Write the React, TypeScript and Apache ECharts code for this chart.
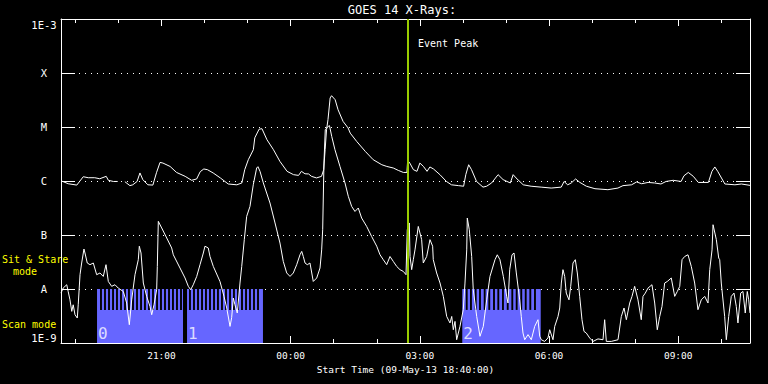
import React, { useEffect, useRef } from 'react';
import * as echarts from 'echarts';

const titleText = 'GOES 14 X-Rays:';
const startLabel = 'Start Time (09-May-13 18:40:00)';
const startClockMinutes = 18 * 60 + 40;
const axisMinMinutes = 0;
const axisMaxMinutes = 960;
const hourTicks = [20, 80, 140, 200, 260, 320, 380, 440, 500, 560, 620, 680, 740, 800, 860, 920];
const majorTicks = [140, 320, 500, 680, 860];
const yLevels = [-9, -8, -7, -6, -5, -4, -3];
const yTickLabels = ['1E-9', 'A', 'B', 'C', 'M', 'X', '1E-3'];
const eventPeakMinute = 483.5;
const eventLabel = 'Event Peak';

// GOES long channel (1-8 A), minutes since start, W/m^2
const longTimes = [0, 10, 22, 31, 38, 47, 54, 63, 66, 73, 79, 84, 89, 96, 100, 106, 110, 114, 121, 128, 133, 138, 142, 152, 161, 173, 182, 189, 194, 199, 204, 212, 222, 233, 245, 252, 256, 261, 268, 270, 276, 280, 287, 296, 305, 315, 324, 331, 335, 340, 345, 349, 356, 363, 366, 368, 370, 372, 375, 377, 382, 386, 393, 400, 403, 412, 424, 435, 447, 454, 463, 470, 477, 482, 483, 486, 491, 496, 500, 505, 510, 514, 519, 528, 537, 544, 554, 561, 564, 568, 572, 579, 588, 593, 600, 609, 616, 626, 630, 634, 644, 655, 669, 683, 697, 701, 706, 711, 717, 723, 732, 744, 762, 776, 783, 795, 802, 809, 818, 827, 836, 843, 853, 864, 868, 874, 881, 888, 902, 907, 911, 915, 925, 939, 948, 960];
const longFlux = [1.01e-6, 8.9e-7, 8.4e-7, 1.2e-6, 1.15e-6, 1.15e-6, 1.1e-6, 1.22e-6, 1.03e-6, 9.8e-7, 9.8e-7, null, 9.7e-7, 8.2e-7, 8.5e-7, 9.8e-7, 1.41e-6, 1.06e-6, 8.5e-7, 8.4e-7, 1.42e-6, 2.21e-6, 2.15e-6, 1.86e-6, 1.44e-6, 1.22e-6, 1.03e-6, 1.09e-6, 1.49e-6, 1.67e-6, 1.62e-6, 1.41e-6, 1.14e-6, 8.8e-7, 8.5e-7, 9.2e-7, 1.62e-6, 2.48e-6, 3.8e-6, 6.3e-6, 9.1e-6, 9.3e-6, 5.8e-6, 3.8e-6, 2.31e-6, 1.51e-6, 1.31e-6, 1.27e-6, 1.51e-6, 1.36e-6, 1.35e-6, 1.22e-6, 1.14e-6, 1.22e-6, 1.62e-6, 3.8e-6, 8.9e-6, 1.37e-5, 3.45e-5, 3.8e-5, 3.2e-5, 2.09e-5, 1.27e-5, 9.6e-6, 7.7e-6, 5.4e-6, 3.53e-6, 2.48e-6, 2.0e-6, 1.86e-6, 1.74e-6, 1.57e-6, 1.44e-6, 1.44e-6, 2.41e-6, 2.15e-6, 1.62e-6, 1.51e-6, 2.15e-6, 1.86e-6, 1.51e-6, 1.82e-6, 1.67e-6, 1.31e-6, 9.8e-7, 8.5e-7, 8.2e-7, 8.0e-7, 1.31e-6, 2.0e-6, 1.62e-6, 9.8e-7, 7.7e-7, 8.0e-7, 9.2e-7, 1.31e-6, 1.06e-6, 9.2e-7, 1.31e-6, 1.14e-6, 8.5e-7, 8.0e-7, 7.7e-7, 7.4e-7, 7.7e-7, 9.8e-7, 8.5e-7, 9.2e-7, 1.09e-6, 9.4e-7, 8.0e-7, 7.2e-7, 6.9e-7, 7.4e-7, 8.2e-7, 8.5e-7, 9.6e-7, 8.9e-7, 9.4e-7, 9.2e-7, 8.8e-7, 9.8e-7, 1.03e-6, 9.8e-7, 1.25e-6, 1.44e-6, 1.22e-6, 9.4e-7, 9.4e-7, 1.51e-6, 1.82e-6, 1.51e-6, 8.8e-7, 8.5e-7, 8.8e-7, 8.3e-7];

// GOES short channel (0.5-4 A)
const shortTimes = [0, 3, 8, 10, 12.5, 15, 17, 19.5, 22.7, 24, 26.5, 28.8, 32, 33.4, 36.6, 40.4, 45, 49.7, 54.3, 58.9, 62.7, 65.9, 70.6, 75.2, 79.8, 86.8, 91.5, 95.2, 98.5, 103.1, 107.7, 109.1, 111.5, 114.7, 119.4, 124, 126.4, 129.6, 133.3, 134.2, 135.6, 140.3, 147.3, 154.2, 156.5, 165.8, 172.8, 177.4, 180.7, 184.3, 189.1, 193.7, 198.3, 200.6, 205.2, 207.6, 212.2, 221.5, 227.1, 230.9, 235.5, 237.8, 240.1, 242.4, 245.6, 249.4, 251.8, 255.4, 258.7, 263.3, 267.9, 272.6, 274.4, 277.3, 281.9, 291.2, 298.2, 305.1, 309.7, 314.5, 319.1, 323.7, 328.4, 333, 335.4, 337.6, 340, 343.2, 346.9, 351.5, 356.3, 360.9, 363.2, 364.6, 366.4, 368.2, 372.4, 374.1, 377.2, 381.7, 388.7, 395.7, 400.3, 405, 409.6, 414.2, 418.9, 425.9, 432.8, 439.9, 444.5, 449, 453.8, 458.4, 463, 467.7, 472.3, 476.9, 480.7, 482.5, 485.3, 486.3, 488.6, 490.9, 493.2, 497.8, 502.5, 504.8, 509.5, 514.1, 517.8, 518.7, 523.4, 528.1, 532.7, 537.4, 542, 544.4, 546.6, 549, 551.3, 553.6, 555.9, 560.5, 562.9, 565.3, 566.1, 568.9, 572.2, 574.4, 579.2, 583.8, 588.4, 593.1, 597.7, 604.7, 607.9, 611.6, 616.3, 621, 622.8, 625.2, 628.4, 631.2, 634.4, 639.1, 641.3, 643.7, 646.1, 650.7, 655.3, 660, 664.6, 667, 669.2, 673.9, 678.5, 680.9, 685.5, 687.9, 692.5, 694.9, 697.1, 699.4, 701.8, 704, 707.8, 710.2, 713.4, 716.6, 719.4, 722.7, 725.9, 728.7, 731.9, 736.6, 741.3, 748.2, 755.2, 757.5, 759.8, 766.7, 776.1, 780.7, 784.5, 787.7, 792.4, 795.6, 799.3, 803.9, 808.5, 810.9, 814.1, 817.9, 823.4, 827.2, 830.8, 834.2, 837.4, 841.1, 844.8, 850.3, 855.1, 858.7, 862.1, 865.3, 869, 873.6, 878.2, 882.9, 887.5, 892.1, 896.9, 901.5, 903.9, 907.1, 908.5, 913.1, 916.4, 917.8, 920, 924.7, 927, 930.3, 933.9, 937.7, 940.9, 943.2, 947, 950.2, 953.4, 956.2, 958.2, 960];
const shortFlux = [8.4e-9, 1.04e-8, 1.2e-8, 9.0e-9, 6.3e-9, 3.85e-9, 5.1e-9, 3.34e-9, 2.9e-9, 5.1e-9, 1.84e-8, 3.03e-8, 5.5e-8, 4.64e-8, 3.03e-8, 2.82e-8, 3.03e-8, 1.84e-8, 1.98e-8, 1.71e-8, 2.82e-8, 1.38e-8, 1.12e-8, 1.2e-8, 1.04e-8, 9.0e-9, 5.5e-9, 2.18e-9, 6.3e-9, 1.84e-8, 3.49e-8, 6.2e-8, 4.64e-8, 1.29e-8, 7.3e-9, 4.76e-9, 3.34e-9, 5.1e-9, 9.7e-9, 2.62e-8, 1.79e-7, 1.35e-7, 8.8e-8, 5.75e-8, 4.3e-8, 2.45e-8, 1.6e-8, 1.12e-8, 9.7e-9, 1.2e-8, 1.71e-8, 2.82e-8, 4.64e-8, 6.2e-8, 5.75e-8, 4.0e-8, 2.62e-8, 1.38e-8, 7.3e-9, 4.45e-9, 2.03e-9, 2.94e-9, 6.8e-9, 5.1e-9, 3.59e-9, 1.29e-8, 2.62e-8, 8.2e-8, 2.21e-7, 3.38e-7, 8.5e-7, 1.74e-6, 1.84e-6, 1.51e-6, 9.2e-7, 3.91e-7, 1.67e-7, 7.1e-8, 3.24e-8, 1.98e-8, 1.71e-8, 1.98e-8, 2.82e-8, 4.3e-8, 4.97e-8, 4.0e-8, 3.03e-8, 2.82e-8, 3.03e-8, 1.38e-8, 1.6e-8, 2.45e-8, 5.3e-8, 1.25e-7, 2.15e-6, 8.9e-6, 1.03e-5, 1.06e-5, 6.7e-6, 3.8e-6, 1.86e-6, 9.2e-7, 5.2e-7, 3.38e-7, 2.73e-7, 3.16e-7, 2.06e-7, 1.44e-7, 9.4e-8, 6.2e-8, 4.3e-8, 3.49e-8, 2.82e-8, 4.0e-8, 3.24e-8, 2.62e-8, 2.28e-8, 2.12e-8, 1.84e-8, 1.25e-7, 1.67e-7, 4.0e-8, 2.28e-8, 3.49e-8, 5.3e-8, 1.44e-7, 8.2e-8, 3.03e-8, 4.0e-8, 8.2e-8, 6.2e-8, 3.49e-8, 1.98e-8, 1.29e-8, 7.3e-9, 3.1e-9, 2.35e-9, 3.1e-9, 1.76e-9, 2.51e-9, 1.15e-9, 1.53e-9, 2.03e-9, 4.14e-9, 1.29e-8, 5.3e-8, 2.06e-7, 1.25e-7, 4.0e-8, 9.7e-9, 3.1e-9, 1.33e-9, 2.03e-9, 6.3e-9, 1.71e-8, 3.49e-8, 4.3e-8, 3.49e-8, 1.71e-8, 7.3e-9, 5.5e-9, 2.28e-8, 4.3e-8, 4.64e-8, 1.98e-8, 6.3e-9, 3.1e-9, 1.53e-9, 1.15e-9, 1.43e-9, 1.15e-9, 2.03e-9, 2.7e-9, 1.33e-9, 1.15e-9, 1.07e-9, 1.24e-9, 1.76e-9, 1.15e-9, 2.03e-9, 3.1e-9, 4.45e-9, 1.29e-8, 2.28e-8, 1.71e-8, 8.4e-9, 6.3e-9, 1.12e-8, 3.03e-8, 3.49e-8, 1.98e-8, 7.3e-9, 2.7e-9, 1.64e-9, 1.53e-9, 1.24e-9, 1.07e-9, 1.19e-9, 1.15e-9, 2.7e-9, 1.07e-9, 1.07e-9, 1.15e-9, 3.1e-9, 4.45e-9, 2.7e-9, 5.5e-9, 7.3e-9, 1.12e-8, 6.3e-9, 2.7e-9, 7.3e-9, 8.4e-9, 1.04e-8, 1.2e-8, 5.5e-9, 1.76e-9, 3.1e-9, 4.76e-9, 1.29e-8, 1.38e-8, 1.6e-8, 7.3e-9, 9.0e-9, 1.12e-8, 3.49e-8, 4.0e-8, 4.3e-8, 2.62e-8, 1.29e-8, 4.14e-9, 6.3e-9, 7.3e-9, 5.5e-9, 2.28e-8, 5.3e-8, 1.55e-7, 8.2e-8, 3.75e-8, 3.49e-8, 1.29e-8, 3.1e-9, 1.15e-9, 3.1e-9, 7.3e-9, 8.4e-9, 4.76e-9, 2.35e-9, 8.4e-9, 9.0e-9, 3.59e-9, 9.0e-9, 6.3e-9, 3.59e-9];

// observing-mode segments (minutes since start)
const modeSegStart = [50.2, 175.6, 559.1];
const modeSegEnd = [170, 281.4, 668.4];
const modeSegLabels = ['0', '1', '2'];
const scanTopFlux = 4.1e-9;
const sitStareTopFlux = 1e-8;
const sitStareGaps = [
  55.7, 61.3, 66.9, 72.5, 78.0, 83.6, 89.2, 94.7, 100.3, 105.9, 111.5, 117.0, 122.6, 128.2, 133.8, 139.3, 144.9, 150.5, 156.0, 161.6, 167.2,
  179.7, 185.3, 190.9, 196.5, 202.0, 207.6, 213.2, 218.7, 224.3, 229.9, 235.5, 241.0, 246.6, 252.2, 257.8, 263.3, 268.9, 274.5,
  565.3, 571.2, 577.8, 583.8, 590.3, 596.7, 603.3, 609.3, 615.8, 622.4, 628.8, 634.9, 641.3, 647.5, 653.9, 660.4,
];
const gapWidthMinutes = 2.6;

const FONT = 'DejaVu Sans Mono';
const BLUE = '#6666ff';
const GREEN = '#99cc00';

const pad = (n: number) => (n < 10 ? '0' + n : '' + n);
const clock = (m: number) => {
  const tot = Math.round(startClockMinutes + m);
  return pad(Math.floor(tot / 60) % 24) + ':' + pad(tot % 60);
};

export default function App() {
  const ref = useRef<HTMLDivElement>(null);
  useEffect(() => {
    document.body.style.margin = '0';
    document.body.style.background = '#000';
    const chart = echarts.init(ref.current!, undefined, { renderer: 'svg' });
    const lg = (f: number | null) => (f == null ? '-' : Math.log10(f));
    const longData = longTimes.map((t, i) => [t, lg(longFlux[i])]);
    const shortData = shortTimes.map((t, i) => [t, lg(shortFlux[i])]);
    const scanTop = Math.log10(scanTopFlux);
    const ssTop = Math.log10(sitStareTopFlux);
    const segData = modeSegStart.map((s, i) => [s, modeSegEnd[i], ssTop]);
    const gapData = sitStareGaps.map((g) => [g - gapWidthMinutes / 2, g + gapWidthMinutes / 2, ssTop]);

    const baseX = {
      type: 'value',
      min: axisMinMinutes,
      max: axisMaxMinutes,
      splitLine: { show: false },
      axisLine: { show: true, onZero: false, lineStyle: { color: '#fff', width: 1 } },
    };
    const option: any = {
      animation: false,
      backgroundColor: '#000',
      grid: { left: 61, right: 18, top: 19, bottom: 41 },
      xAxis: [
        {
          ...baseX,
          position: 'bottom',
          axisTick: { show: true, inside: true, length: 4, customValues: hourTicks, lineStyle: { color: '#fff' } },
          axisLabel: { show: false },
        },
        {
          ...baseX,
          position: 'bottom',
          axisLine: { show: false, onZero: false },
          axisTick: { show: true, inside: true, length: 7, customValues: majorTicks, lineStyle: { color: '#fff' } },
          axisLabel: {
            show: true,
            customValues: majorTicks,
            formatter: (v: number) => clock(v),
            color: '#fff',
            fontFamily: FONT,
            fontSize: 9.5,
            margin: 7,
          },
          name: startLabel,
          nameLocation: 'middle',
          nameGap: 21,
          nameTextStyle: { color: '#fff', fontFamily: FONT, fontSize: 9.5 },
        },
        {
          ...baseX,
          position: 'top',
          axisTick: { show: true, inside: true, length: 4, customValues: hourTicks, lineStyle: { color: '#fff' } },
          axisLabel: { show: false },
        },
        {
          ...baseX,
          position: 'top',
          axisLine: { show: false, onZero: false },
          axisTick: { show: true, inside: true, length: 7, customValues: majorTicks, lineStyle: { color: '#fff' } },
          axisLabel: { show: false },
        },
      ],
      yAxis: [
        {
          type: 'value',
          position: 'left',
          min: -9,
          max: -3,
          interval: 1,
          axisLine: { show: true, onZero: false, lineStyle: { color: '#fff' } },
          axisTick: { show: true, inside: true, length: 14, lineStyle: { color: '#fff' } },
          axisLabel: {
            formatter: (v: number) => {
              const i = yLevels.indexOf(Math.round(v));
              return i >= 0 ? yTickLabels[i] : '';
            },
            color: '#fff',
            fontFamily: FONT,
            fontSize: 10.5,
            align: 'center',
            margin: 17,
            verticalAlignMaxLabel: 'top',
            verticalAlignMinLabel: 'bottom',
          },
          splitLine: { show: true, lineStyle: { color: '#fff', width: 1, type: [1, 5] } },
        },
        {
          type: 'value',
          position: 'right',
          min: -9,
          max: -3,
          interval: 1,
          axisLine: { show: true, onZero: false, lineStyle: { color: '#fff' } },
          axisTick: { show: true, inside: true, length: 14, lineStyle: { color: '#fff' } },
          axisLabel: { show: false },
          splitLine: { show: false },
        },
      ],
      graphic: [
        { type: 'text', x: 402, y: 10, style: { text: titleText, fill: '#fff', font: `12px "${FONT}"`, align: 'center', verticalAlign: 'middle' } },
        { type: 'text', x: 418, y: 43, style: { text: eventLabel, fill: '#fff', font: `10px "${FONT}"`, align: 'left', verticalAlign: 'middle' } },
        { type: 'text', x: 2, y: 259, style: { text: 'Sit & Stare', fill: '#ffff00', font: `10px "${FONT}"`, align: 'left', verticalAlign: 'middle' } },
        { type: 'text', x: 13, y: 271, style: { text: 'mode', fill: '#ffff00', font: `10px "${FONT}"`, align: 'left', verticalAlign: 'middle' } },
        { type: 'text', x: 2, y: 324, style: { text: 'Scan mode', fill: '#ffff00', font: `10px "${FONT}"`, align: 'left', verticalAlign: 'middle' } },
      ],
      series: [
        {
          type: 'custom',
          name: 'modes',
          xAxisIndex: 0,
          yAxisIndex: 0,
          encode: { x: [0, 1], y: 2 },
          data: segData,
          renderItem: (params: any, api: any) => {
            const p0 = api.coord([api.value(0), api.value(2)]);
            const p1 = api.coord([api.value(1), -9]);
            return {
              type: 'group',
              children: [
                { type: 'rect', shape: { x: p0[0], y: p0[1], width: p1[0] - p0[0], height: p1[1] - p0[1] }, style: { fill: BLUE } },
                {
                  type: 'text',
                  x: p0[0] + 1,
                  y: p1[1] - 10,
                  style: { text: modeSegLabels[params.dataIndex], fill: '#dcdcff', font: `16px "${FONT}"`, align: 'left', verticalAlign: 'middle' },
                },
              ],
            };
          },
          z: 1,
        },
        {
          type: 'custom',
          name: 'gaps',
          xAxisIndex: 0,
          yAxisIndex: 0,
          encode: { x: [0, 1], y: 2 },
          data: gapData,
          renderItem: (params: any, api: any) => {
            const p0 = api.coord([api.value(0), api.value(2)]);
            const p1 = api.coord([api.value(1), scanTop]);
            return { type: 'rect', shape: { x: p0[0], y: p0[1], width: p1[0] - p0[0], height: p1[1] - p0[1] }, style: { fill: '#000' } };
          },
          z: 1,
        },
        {
          type: 'line',
          name: 'long',
          data: longData,
          showSymbol: false,
          symbol: 'none',
          connectNulls: false,
          lineStyle: { color: '#fff', width: 1 },
          z: 3,
          markLine: {
            silent: true,
            symbol: 'none',
            label: { show: false },
            lineStyle: { color: GREEN, width: 2, type: 'solid' },
            data: [{ xAxis: eventPeakMinute }],
          },
        },
        {
          type: 'line',
          name: 'short',
          data: shortData,
          showSymbol: false,
          symbol: 'none',
          lineStyle: { color: '#fff', width: 1 },
          z: 3,
        },
      ],
    };
    chart.setOption(option);
    return () => chart.dispose();
  }, []);
  return <div ref={ref} style={{ position: 'fixed', left: 0, top: 0, width: 768, height: 384 }} />;
}
